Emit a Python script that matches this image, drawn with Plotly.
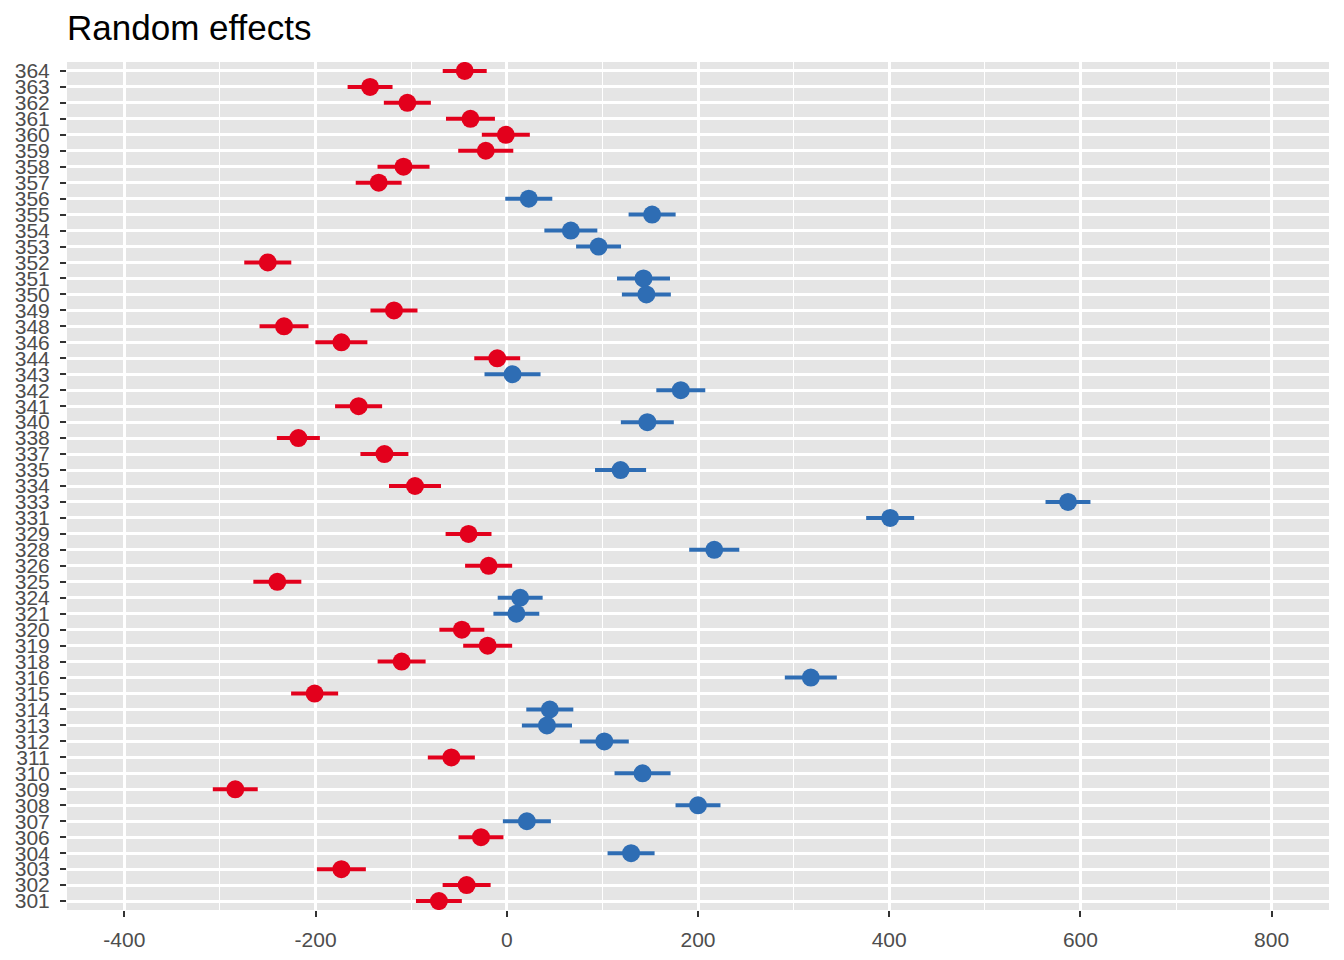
import plotly.graph_objects as go

# subject ids, top to bottom as in the chart
subjects = [364, 363, 362, 361, 360, 359, 358, 357, 356, 355, 354, 353, 352, 351,
            350, 349, 348, 346, 344, 343, 342, 341, 340, 338, 337, 335, 334, 333,
            331, 329, 328, 326, 325, 324, 321, 320, 319, 318, 316, 315, 314, 313,
            312, 311, 310, 309, 308, 307, 306, 304, 303, 302, 301]

# random effect estimates
effects = [-44, -143, -104, -38, -1, -22, -108, -134, 23, 152, 67, 96, -250, 143,
           146, -118, -233, -173, -10, 6, 182, -155, 147, -218, -128, 119, -96, 587,
           401, -40, 217, -19, -240, 14, 10, -47, -20, -110, 318, -201, 45, 42,
           102, -58, 142, -284, 200, 21, -27, 130, -173, -42, -71]

# half-width of the interval
errors = [23, 23.5, 24.6, 25.6, 25.1, 28.8, 27.2, 24, 24.6, 24.6, 27.7, 23.5, 24.6, 27.7,
          25.6, 24.6, 25.6, 27.2, 24, 29.3, 25.6, 24.6, 27.7, 22.5, 25.1, 26.7, 27.2, 23.5,
          25.1, 24, 26.2, 24.6, 25.1, 23.5, 24, 23.5, 25.6, 25.1, 27.2, 24.6, 24.6, 26.2,
          25.6, 24.6, 29.3, 23.5, 23.5, 25.1, 23.5, 24.6, 25.6, 25.1, 24]

x_ticks = [-400, -200, 0, 200, 400, 600, 800]
x_minor = [-300, -100, 100, 300, 500, 700]

labels = [str(s) for s in subjects]
RED = "#E3001C"
BLUE = "#2E6DB4"

fig = go.Figure()
for positive, color in [(False, RED), (True, BLUE)]:
    idx = [i for i, v in enumerate(effects) if (v > 0) == positive]
    fig.add_trace(go.Scatter(
        x=[effects[i] for i in idx],
        y=[labels[i] for i in idx],
        mode="markers",
        marker=dict(color=color, size=18),
        error_x=dict(type="data", array=[errors[i] for i in idx],
                     symmetric=True, color=color, thickness=4, width=0),
        showlegend=False,
    ))

tick_font = dict(family="Liberation Sans, Arial, sans-serif", size=21, color="#4D4D4D")

# page body adds an 8px offset, margins compensate for it
fig.update_layout(
    width=1344, height=960,
    margin=dict(l=59, r=23, t=54, b=58),
    paper_bgcolor="white",
    plot_bgcolor="#E5E5E5",
    title=dict(text="Random effects", x=59 / 1344, xanchor="left", xref="container",
               y=1 - 20 / 960, yanchor="middle", yref="container",
               font=dict(family="Liberation Sans, Arial, sans-serif", size=35, color="black")),
    xaxis=dict(
        range=[-460, 860], tickmode="array", tickvals=x_ticks,
        ticktext=[str(v) for v in x_ticks],
        showgrid=True, gridcolor="white", gridwidth=2.6, zeroline=False,
        minor=dict(tickmode="array", tickvals=x_minor,
                   showgrid=True, gridcolor="white", gridwidth=1.4, ticks=""),
        ticks="outside", ticklen=6, tickwidth=2, tickcolor="#333333",
        tickfont=tick_font, ticklabelstandoff=5, showline=False, automargin=False,
    ),
    yaxis=dict(
        type="category", categoryorder="array", categoryarray=labels[::-1],
        tickmode="array", tickvals=labels, ticktext=labels,
        range=[-0.56, len(labels) - 0.44],
        showgrid=True, gridcolor="white", gridwidth=2.6, zeroline=False,
        ticks="outside", ticklen=6, tickwidth=2, tickcolor="#333333",
        tickfont=tick_font, ticklabelstandoff=6, showline=False, automargin=False,
    ),
)

fig.write_html("out.html")
